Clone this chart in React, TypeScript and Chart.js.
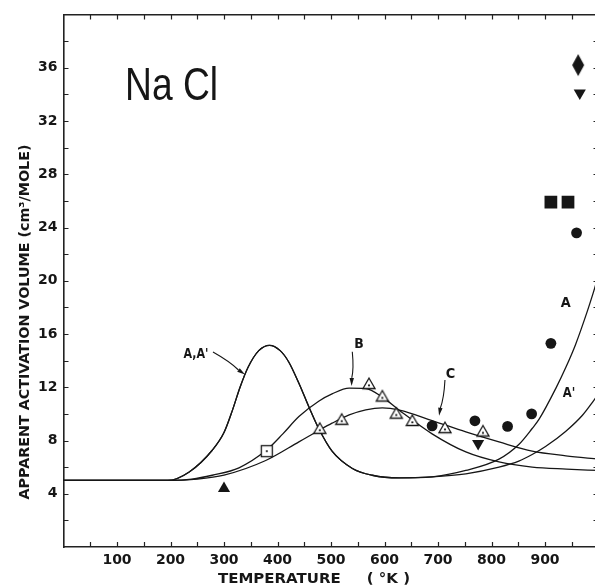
import React, { useEffect, useRef } from 'react';
import { Chart, registerables } from 'chart.js';

Chart.register(...registerables);

// ---- axis tick labels ----
const xTickLabels = [100, 200, 300, 400, 500, 600, 700, 800, 900];
const yTickLabels = [4, 8, 12, 16, 20, 24, 28, 32, 36];

// ---- curves ----
const sharedAX = [0, 195, 235, 278, 300, 316, 330, 345, 365, 385, 405, 421, 440, 460, 477, 502, 540, 577, 627, 689];
const sharedAY = [5, 5, 5.64, 7.27, 8.6, 10.3, 12.0, 13.5, 14.75, 15.15, 14.75, 13.9, 12.3, 10.4, 8.9, 7.2, 5.9, 5.39, 5.19, 5.27];
const branchAX = [752, 814, 851, 876, 889, 920, 939, 957, 979, 991, 1000];
const branchAY = [5.75, 6.6, 7.7, 8.9, 9.6, 11.9, 13.5, 15.2, 17.7, 19.2, 20.4];
const branchA2X = [752, 814, 851, 876, 901, 939, 970, 991, 1000];
const branchA2Y = [5.5, 6.0, 6.45, 6.95, 7.55, 8.7, 9.9, 11.0, 11.5];
const curveBX = [0, 200, 240, 278, 328, 380, 410, 440, 477, 502, 534, 565, 596, 628, 689, 752, 814, 876, 940, 1000];
const curveBY = [5, 5, 5.1, 5.39, 5.95, 7.3, 8.5, 9.8, 10.95, 11.5, 11.93, 11.9, 11.26, 10.26, 8.5, 7.14, 6.39, 6.0, 5.85, 5.75];
const curveCX = [0, 200, 250, 300, 378, 440, 477, 502, 534, 565, 596, 628, 689, 752, 814, 876, 939, 1000];
const curveCY = [5, 5, 5.1, 5.4, 6.5, 7.9, 8.75, 9.3, 9.92, 10.3, 10.45, 10.28, 9.5, 8.64, 7.89, 7.2, 6.85, 6.6];

// ---- measured points ----
const circleX = [689, 769, 830, 875, 911, 959];
const circleY = [9.1, 9.48, 9.06, 10.0, 15.3, 23.6];
const openTriX = [479, 520, 571, 596, 622, 652, 713, 784];
const openTriY = [8.8, 9.48, 12.16, 11.23, 9.94, 9.39, 8.85, 8.6];
const openSquareX = [380];
const openSquareY = [7.2];
const filledTriX = [300];
const filledTriY = [4.4];
const invTriX = [775, 965];
const invTriY = [7.77, 34.1];
const filledSquareX = [911, 943];
const filledSquareY = [25.9, 25.9];
const diamondX = [962];
const diamondY = [36.2];

// ---- annotations (data coordinates) ----
const labelTexts = ["A,A'", 'B', 'C', 'A', "A'"];
const labelX = [247.7, 552.3, 723.4, 938.7, 944.9];
const labelY = [14.16, 14.97, 12.71, 18.05, 11.29];
const labelW = [25, 9.5, 9.5, 10, 12.5];
const arrowFrom = [[279.4, 14.65], [539.8, 14.67], [713, 12.55]];
const arrowTo = [[339.3, 12.95], [538.5, 12.1], [702, 9.85]];

const INK = '#161616';

const pts = (xs: number[], ys: number[]) => xs.map((x, i) => ({ x, y: ys[i] }));

function makeCanvas(w: number, h: number, draw: (c: CanvasRenderingContext2D) => void) {
  const c = document.createElement('canvas');
  c.width = w;
  c.height = h;
  const ctx = c.getContext('2d')!;
  draw(ctx);
  return c;
}

function fitText(ctx: CanvasRenderingContext2D, text: string, cx: number, baseY: number, width: number, font: string, rot = 0) {
  ctx.save();
  ctx.font = font;
  const w = ctx.measureText(text).width;
  ctx.translate(cx, baseY);
  ctx.rotate(rot);
  ctx.scale(width / w, 1);
  ctx.textAlign = 'center';
  ctx.textBaseline = 'alphabetic';
  ctx.fillStyle = INK;
  ctx.fillText(text, 0, 0);
  ctx.restore();
}

const annotPlugin = {
  id: 'annot',
  afterDraw(chart: any) {
    const { ctx, chartArea, scales } = chart;
    const xs = scales.x;
    const ys = scales.y;
    const { left, right, top, bottom } = chartArea;
    ctx.save();
    ctx.strokeStyle = '#222';
    ctx.lineWidth = 1.2;
    ctx.beginPath();
    for (let v = 50; v < 1000; v += 50) {
      const p = Math.round(xs.getPixelForValue(v)) + 0.5;
      ctx.moveTo(p, bottom);
      ctx.lineTo(p, bottom - 5);
      ctx.moveTo(p, top);
      ctx.lineTo(p, top + 5);
    }
    for (let v = 2; v < 40; v += 2) {
      const p = Math.round(ys.getPixelForValue(v)) + 0.5;
      ctx.moveTo(left, p);
      ctx.lineTo(left + 5, p);
      ctx.moveTo(right, p);
      ctx.lineTo(right - 5, p);
    }
    ctx.stroke();

    // title texts
    fitText(ctx, 'Na Cl', xs.getPixelForValue(201.9), ys.getPixelForValue(33.58), 93, '46px "Liberation Sans"');
    fitText(ctx, 'APPARENT ACTIVATION VOLUME (cm³/MOLE)', 29, 322, 355, 'bold 14px "DejaVu Sans"', -Math.PI / 2);
    fitText(ctx, 'TEMPERATURE     ( °K )', 314, 583, 192, 'bold 14px "DejaVu Sans"');

    labelTexts.forEach((t, i) => {
      fitText(ctx, t, xs.getPixelForValue(labelX[i]), ys.getPixelForValue(labelY[i]), labelW[i], 'bold 14px "DejaVu Sans"');
    });

    // arrows
    ctx.strokeStyle = INK;
    ctx.fillStyle = INK;
    ctx.lineWidth = 1.1;
    arrowFrom.forEach((f, i) => {
      const x1 = xs.getPixelForValue(f[0]);
      const y1 = ys.getPixelForValue(f[1]);
      const x2 = xs.getPixelForValue(arrowTo[i][0]);
      const y2 = ys.getPixelForValue(arrowTo[i][1]);
      const ang = Math.atan2(y2 - y1, x2 - x1);
      const len = 8;
      const bx = x2 - Math.cos(ang) * len;
      const by = y2 - Math.sin(ang) * len;
      ctx.beginPath();
      ctx.moveTo(x1, y1);
      const mx = (x1 + x2) / 2 + Math.sin(ang) * 2;
      const my = (y1 + y2) / 2 - Math.cos(ang) * 2;
      ctx.quadraticCurveTo(mx, my, bx, by);
      ctx.stroke();
      ctx.beginPath();
      ctx.moveTo(x2, y2);
      ctx.lineTo(bx + Math.sin(ang) * 2.2, by - Math.cos(ang) * 2.2);
      ctx.lineTo(bx - Math.sin(ang) * 2.2, by + Math.cos(ang) * 2.2);
      ctx.closePath();
      ctx.fill();
    });
    ctx.restore();
  },
};

export default function App() {
  const ref = useRef<HTMLCanvasElement | null>(null);

  useEffect(() => {
    if (!ref.current) return;

    const openTri = makeCanvas(18, 18, (c) => {
      c.beginPath();
      c.moveTo(9, 2);
      c.lineTo(9 + 6.06, 12.5);
      c.lineTo(9 - 6.06, 12.5);
      c.closePath();
      c.fillStyle = '#fff';
      c.fill();
      c.lineWidth = 1.3;
      c.strokeStyle = INK;
      c.stroke();
      c.beginPath();
      c.arc(9, 9.3, 1.1, 0, Math.PI * 2);
      c.fillStyle = INK;
      c.fill();
    });
    const openSq = makeCanvas(16, 16, (c) => {
      c.fillStyle = '#fff';
      c.fillRect(2.5, 2.5, 11, 11);
      c.lineWidth = 1.3;
      c.strokeStyle = INK;
      c.strokeRect(2.5, 2.5, 11, 11);
      c.beginPath();
      c.arc(8, 8, 1.1, 0, Math.PI * 2);
      c.fillStyle = INK;
      c.fill();
    });
    const diamond = makeCanvas(14, 24, (c) => {
      c.beginPath();
      c.moveTo(7, 1);
      c.lineTo(13, 12);
      c.lineTo(7, 23);
      c.lineTo(1, 12);
      c.closePath();
      c.fillStyle = INK;
      c.fill();
    });

    const lineDs = (data: any[]) => ({
      data,
      showLine: true,
      pointRadius: 0,
      borderColor: INK,
      borderWidth: 1.3,
      cubicInterpolationMode: 'monotone' as const,
      fill: false,
      order: 2,
    });
    const markDs = (data: any[], style: any, radius: number, rotation = 0) => ({
      data,
      showLine: false,
      pointStyle: style,
      pointRadius: radius,
      pointRotation: rotation,
      pointBackgroundColor: INK,
      pointBorderColor: INK,
      pointBorderWidth: 0,
      order: 0,
    });

    const axisFont = { family: '"DejaVu Sans"', size: 14, weight: 'bold' as const };

    const chart = new Chart(ref.current, {
      type: 'scatter',
      data: {
        datasets: [
          markDs(pts(openTriX, openTriY), openTri, 7),
          markDs(pts(openSquareX, openSquareY), openSq, 7),
          markDs(pts(circleX, circleY), 'circle', 5.4),
          markDs(pts(filledTriX, filledTriY), 'triangle', 7),
          markDs(pts(invTriX, invTriY), 'triangle', 7, 180),
          markDs(pts(filledSquareX, filledSquareY), 'rect', 9),
          markDs(pts(diamondX, diamondY), diamond, 7),
          lineDs(pts(sharedAX.concat(branchAX), sharedAY.concat(branchAY))),
          lineDs(pts(sharedAX.concat(branchA2X), sharedAY.concat(branchA2Y))),
          lineDs(pts(curveBX, curveBY)),
          lineDs(pts(curveCX, curveCY)),
        ] as any,
      },
      options: {
        responsive: false,
        animation: false,
        events: [],
        layout: { padding: { top: 14.5, right: 11.5, left: 0, bottom: 0 } },
        plugins: { legend: { display: false }, tooltip: { enabled: false }, title: { display: false } },
        scales: {
          x: {
            type: 'linear',
            position: 'bottom',
            min: 0,
            max: 1000,
            afterFit: (s: any) => { s.height = 41; },
            ticks: {
              stepSize: 100,
              padding: 5,
              color: INK,
              font: axisFont,
              maxRotation: 0,
              autoSkip: false,
              callback: (v: any) => (xTickLabels.includes(Number(v)) ? String(v) : ''),
            },
            grid: { drawOnChartArea: false, drawTicks: false },
            border: { display: true, color: '#222', width: 1.6 },
          },
          x2: {
            type: 'linear',
            position: 'top',
            min: 0,
            max: 1000,
            afterFit: (s: any) => { s.height = 0; },
            ticks: { display: false },
            grid: { drawOnChartArea: false, drawTicks: false },
            border: { display: true, color: '#222', width: 1.6 },
          },
          y: {
            type: 'linear',
            position: 'left',
            min: 0,
            max: 40,
            afterFit: (s: any) => { s.width = 63.5; },
            ticks: {
              stepSize: 4,
              padding: 6,
              color: INK,
              font: axisFont,
              autoSkip: false,
              callback: (v: any) => (yTickLabels.includes(Number(v)) ? String(v) : ''),
            },
            grid: { drawOnChartArea: false, drawTicks: false },
            border: { display: true, color: '#222', width: 1.6 },
          },
          y2: {
            type: 'linear',
            position: 'right',
            min: 0,
            max: 40,
            afterFit: (s: any) => { s.width = 0; },
            ticks: { display: false },
            grid: { drawOnChartArea: false, drawTicks: false },
            border: { display: true, color: '#222', width: 1.6 },
          },
        },
      } as any,
      plugins: [annotPlugin],
    });
    return () => chart.destroy();
  }, []);

  return (
    <div style={{ position: 'fixed', left: 0, top: 0, width: 595, height: 588, overflow: 'hidden', background: '#fff' }}>
      <canvas ref={ref} width={610} height={588} style={{ width: 610, height: 588, display: 'block' }} />
    </div>
  );
}
